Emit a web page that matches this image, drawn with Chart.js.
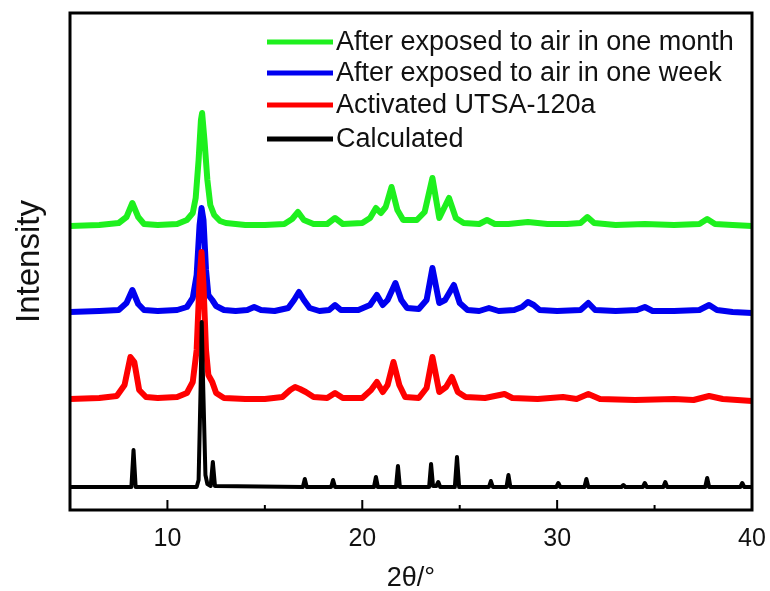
<!DOCTYPE html>
<html>
<head>
<meta charset="utf-8">
<script src="https://cdn.jsdelivr.net/npm/chart.js@4/dist/chart.umd.min.js"></script>
<style>
  html, body { margin: 0; padding: 0; background: #fff; }
  #wrap { width: 770px; height: 591px; }
</style>
</head>
<body>
<div id="wrap"><canvas id="xrd" width="770" height="591"></canvas></div>
<script>
// 2θ positions and intensities (y in arbitrary units)
const seriesLabels = [
  "After exposed to air in one month",
  "After exposed to air in one week",
  "Activated UTSA-120a",
  "Calculated",
];
const seriesColors = ["#1ef01e", "#0000f0", "#ff0000", "#000000"];

const monthX = [5.0, 6.5, 7.5, 7.9, 8.2, 8.5, 8.8, 9.5, 10.5, 11.0, 11.3, 11.45, 11.6, 11.72, 11.78, 11.9, 12.05, 12.2, 12.4, 12.7, 13.0, 14.0, 15.0, 16.0, 16.4, 16.7, 17.0, 17.5, 18.2, 18.6, 19.0, 20.0, 20.4, 20.7, 20.95, 21.2, 21.5, 21.8, 22.1, 22.8, 23.2, 23.6, 23.95, 24.45, 24.8, 25.2, 26.0, 26.4, 26.8, 27.5, 28.5, 29.5, 30.5, 31.2, 31.55, 31.9, 33.0, 34.5, 36.0, 37.3, 37.7, 38.1, 39.0, 40.0];
const monthY = [284, 285, 287, 293, 307, 293, 286, 285, 286, 290, 297, 312, 350, 390, 397, 370, 330, 305, 295, 289, 287, 285, 285, 286, 291, 298, 290, 286, 286, 292, 286, 287, 292, 302, 297, 303, 323, 300, 290, 290, 298, 332, 292, 312, 292, 287, 286, 290, 286, 286, 288, 286, 286, 287, 293, 287, 285, 286, 285, 286, 291, 286, 285, 284];

const weekX = [5.0, 6.5, 7.5, 7.9, 8.2, 8.5, 8.8, 9.5, 10.5, 11.0, 11.3, 11.5, 11.65, 11.75, 11.85, 11.98, 12.1, 12.3, 12.5, 12.9, 13.5, 14.1, 14.45, 14.8, 15.5, 16.2, 16.5, 16.75, 17.0, 17.3, 17.8, 18.3, 18.6, 18.9, 19.8, 20.4, 20.75, 21.05, 21.3, 21.7, 22.0, 22.3, 22.9, 23.3, 23.6, 23.95, 24.25, 24.7, 25.0, 25.4, 26.0, 26.5, 27.0, 27.8, 28.2, 28.5, 28.8, 29.1, 30.0, 31.2, 31.6, 31.95, 33.0, 34.1, 34.5, 34.9, 36.0, 37.3, 37.8, 38.2, 39.0, 40.0];
const weekY = [198, 199, 200, 207, 220, 206, 200, 199, 200, 203, 212, 235, 285, 302, 290, 240, 215, 210, 204, 200, 199, 200, 203, 200, 199, 202, 210, 218, 210, 202, 199, 200, 205, 200, 200, 205, 215, 205, 210, 227, 210, 202, 201, 210, 242, 207, 210, 225, 207, 200, 199, 202, 199, 200, 203, 208, 205, 200, 199, 200, 207, 200, 199, 200, 203, 199, 199, 200, 205, 200, 198, 197];

const activeX = [5.0, 6.5, 7.4, 7.8, 8.1, 8.3, 8.55, 8.9, 9.5, 10.5, 11.0, 11.3, 11.5, 11.65, 11.75, 11.85, 11.98, 12.1, 12.3, 12.5, 12.9, 14.0, 15.0, 15.9, 16.3, 16.55, 16.8, 17.1, 17.5, 18.2, 18.6, 19.0, 20.0, 20.45, 20.75, 21.05, 21.3, 21.6, 21.9, 22.2, 22.9, 23.3, 23.6, 23.95, 24.3, 24.6, 24.9, 25.3, 26.3, 27.3, 27.7, 29.0, 30.3, 31.0, 31.6, 32.2, 34.0, 36.0, 37.0, 37.8, 38.5, 40.0];
const activeY = [111, 112, 114, 125, 153, 148, 120, 113, 112, 113, 117, 128, 160, 230, 258, 225, 160, 135, 128, 117, 112, 111, 111, 113, 120, 123, 121, 118, 113, 112, 117, 112, 112, 120, 128, 118, 125, 148, 125, 113, 112, 122, 153, 118, 123, 133, 118, 113, 112, 116, 112, 111, 113, 111, 116, 111, 110, 111, 110, 114, 111, 109];

const calcX = [5.0, 8.15, 8.26, 8.37, 11.5, 11.6, 11.7, 11.76, 11.84, 11.95, 12.05, 12.22, 12.33, 12.44, 16.95, 17.05, 17.15, 18.4, 18.5, 18.6, 20.6, 20.7, 20.8, 21.73, 21.83, 21.93, 23.43, 23.53, 23.63, 23.8, 23.9, 24.0, 24.75, 24.86, 24.97, 26.5, 26.6, 26.7, 27.4, 27.5, 27.6, 29.96, 30.06, 30.16, 31.4, 31.5, 31.6, 33.3, 33.4, 33.5, 34.4, 34.5, 34.6, 35.45, 35.55, 35.65, 37.6, 37.7, 37.8, 39.4, 39.5, 39.6, 40.0];
const calcY = [23, 23, 60, 23, 23, 30, 120, 188, 120, 35, 26, 24, 48, 24, 23, 31, 23, 23, 30, 23, 23, 33, 23, 23, 44, 23, 23, 46, 24, 24, 28, 23, 23, 53, 23, 23, 29, 23, 23, 35, 23, 23, 27, 23, 23, 31, 23, 23, 25, 23, 23, 27, 23, 23, 28, 23, 23, 32, 23, 23, 27, 23, 23];

const xMajorTicks = [10, 20, 30, 40];
const xMinorTicks = [15, 25, 35];

const pts = (xs, ys) => xs.map((x, i) => ({ x: x, y: ys[i] }));
const allX = [monthX, weekX, activeX, calcX];
const allY = [monthY, weekY, activeY, calcY];

const FONT = "'Liberation Sans', Arial, sans-serif";

// frame + inward ticks
const framePlugin = {
  id: "frame",
  afterDatasetsDraw(chart) {
    const { ctx, chartArea: a, scales } = chart;
    ctx.save();
    ctx.strokeStyle = "#000";
    ctx.lineWidth = 3;
    ctx.strokeRect(a.left, a.top, a.right - a.left, a.bottom - a.top);
    ctx.lineWidth = 2;
    ctx.beginPath();
    xMajorTicks.forEach((v) => {
      const px = scales.x.getPixelForValue(v);
      ctx.moveTo(px, a.bottom);
      ctx.lineTo(px, a.bottom - 10);
    });
    xMinorTicks.forEach((v) => {
      const px = scales.x.getPixelForValue(v);
      ctx.moveTo(px, a.bottom);
      ctx.lineTo(px, a.bottom - 5);
    });
    ctx.stroke();
    ctx.restore();
  },
};

// legend drawn as line samples
const legendPlugin = {
  id: "lineLegend",
  afterDraw(chart) {
    const ctx = chart.ctx;
    const rows = [42, 73, 105, 139];
    ctx.save();
    chart.data.datasets.forEach((ds, i) => {
      ctx.strokeStyle = ds.borderColor;
      ctx.lineWidth = 5;
      ctx.beginPath();
      ctx.moveTo(267, rows[i]);
      ctx.lineTo(333, rows[i]);
      ctx.stroke();
      ctx.fillStyle = "#111";
      ctx.font = "27px " + FONT;
      ctx.textBaseline = "middle";
      ctx.fillText(ds.label, 336, rows[i] + 1);
    });
    ctx.restore();
  },
};

new Chart(document.getElementById("xrd"), {
  type: "line",
  data: {
    datasets: seriesLabels.map((label, i) => ({
      label: label,
      data: pts(allX[i], allY[i]),
      borderColor: seriesColors[i],
      borderWidth: i === 3 ? 4 : 6,
      borderJoinStyle: "round",
      pointRadius: 0,
      tension: 0,
      fill: false,
      order: 3 - i,
    })),
  },
  options: {
    responsive: false,
    animation: false,
    devicePixelRatio: 1,
    layout: { padding: { top: 13, right: 18, left: 0, bottom: 0 } },
    plugins: { legend: { display: false }, tooltip: { enabled: false } },
    scales: {
      x: {
        type: "linear",
        min: 5,
        max: 40,
        grid: { display: false, drawTicks: false },
        border: { display: false },
        afterBuildTicks: (s) => { s.ticks = xMajorTicks.map((v) => ({ value: v })); },
        afterFit: (s) => { s.height = 81; s.paddingLeft = 0; s.paddingRight = 0; },
        ticks: { color: "#111", font: { family: FONT, size: 25 }, padding: 14, maxRotation: 0 },
        title: { display: true, text: "2θ/°", color: "#111", font: { family: FONT, size: 27 }, padding: { top: 0, bottom: -4 } },
      },
      y: {
        min: 0,
        max: 497,
        grid: { display: false, drawTicks: false },
        border: { display: false },
        ticks: { display: false },
        afterFit: (s) => { s.width = 70; },
        title: { display: true, text: "Intensity", color: "#111", font: { family: FONT, size: 33 }, padding: { top: 10, bottom: 0 } },
      },
    },
  },
  plugins: [framePlugin, legendPlugin],
});
</script>
</body>
</html>
